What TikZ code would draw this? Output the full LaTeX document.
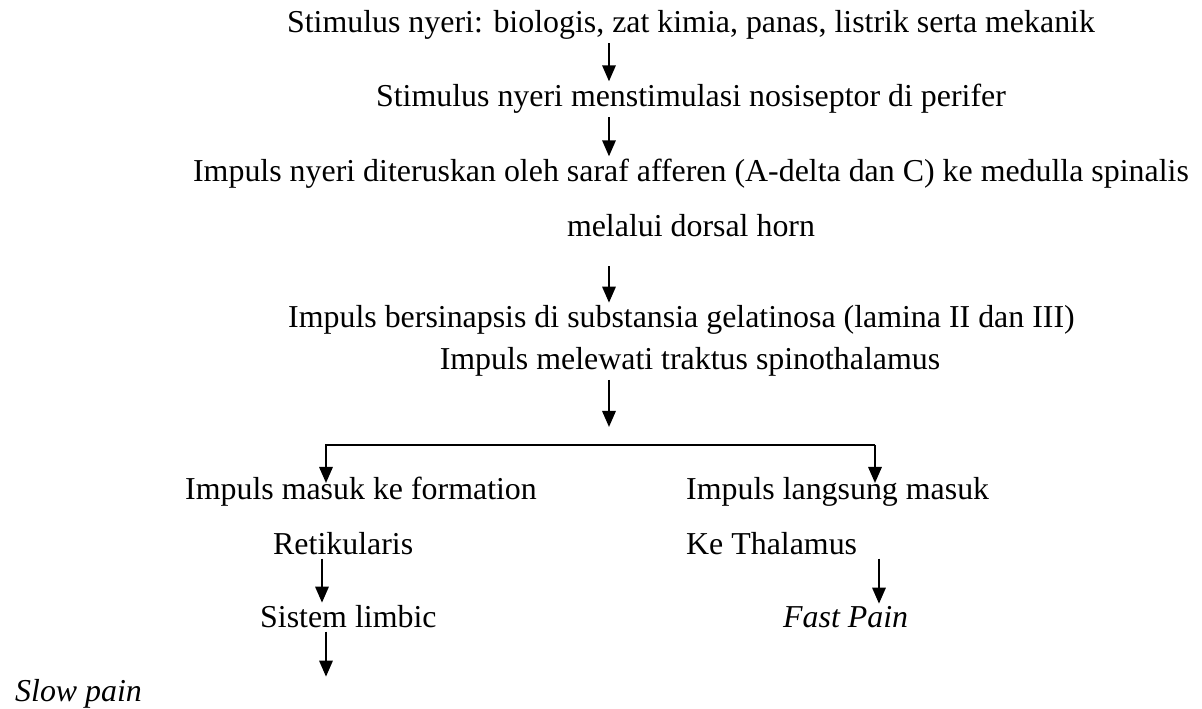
\documentclass[tikz,border=0pt]{standalone}
\usepackage{fontspec}
\setmainfont{Liberation Serif}
\usetikzlibrary{arrows.meta}

\begin{document}
\begin{tikzpicture}[x=0.375pt, y=-0.375pt,
    txt/.style={inner sep=1pt, font=\fontsize{11.96}{14}\selectfont},
    flow/.style={line width=0.8pt, -{Triangle[width=5pt,length=6pt]}},
    branch/.style={line width=0.8pt}]
    % Fix the page size
    \useasboundingbox (0,0) rectangle (1202,709);

    % Define the arrow columns
    \coordinate (colMain) at (609,0);
    \coordinate (colLeft) at (322,0);
    \coordinate (colRight) at (879,0);

    % Draw the main chain
    \node[txt, anchor=base] (stim) at (691,33) {Stimulus nyeri: biologis, zat kimia, panas, listrik serta mekanik};
    \node[txt, anchor=base] (noci) at (691,107) {Stimulus nyeri menstimulasi nosiseptor di perifer};
    \node[txt, anchor=base] (aff) at (691,182) {Impuls nyeri diteruskan oleh saraf afferen (A-delta dan C) ke medulla spinalis};
    \node[txt, anchor=base] (horn) at (691,237) {melalui dorsal horn};
    \node[txt, anchor=base west] (gel) at (285,328) {Impuls bersinapsis di substansia gelatinosa (lamina II dan III)};
    \node[txt, anchor=base] (spino) at (690,370) {Impuls melewati traktus spinothalamus};

    \draw[flow] (stim.south -| colMain) -- (noci.north -| colMain);
    \draw[flow] (noci.south -| colMain) -- (aff.north -| colMain);
    \draw[flow, shorten <=12\pgflinewidth] (horn.south -| colMain) -- (gel.north -| colMain);

    % Draw the split
    \coordinate (split) at (609,427);
    \coordinate (brL) at (326,445);
    \coordinate (brR) at (875,445);
    \coordinate (tipL) at (326,483);
    \coordinate (tipR) at (875,483);
    \draw[flow] (spino.south -| colMain) -- (split);
    \draw[flow] (brR) -- (brL) -- (tipL);
    \draw[flow] (brR) -- (tipR);

    % Left branch
    \node[txt, anchor=base west] (reti) at (182,500) {Impuls masuk ke formation};
    \node[txt, anchor=base west] (retk) at (270,555) {Retikularis};
    \node[txt, anchor=base west] (limb) at (257,628) {Sistem limbic};
    \node[txt, anchor=base west] (slow) at (12,702) {\itshape Slow pain};
    \draw[flow] (retk.south -| colLeft) -- (limb.north -| colLeft);
    \draw[flow] ([xshift=1.5pt]limb.south -| colLeft) -- ([xshift=1.5pt]slow.north -| colLeft);

    % Right branch
    \node[txt, anchor=base west] (thal) at (683,500) {Impuls langsung masuk};
    \node[txt, anchor=base west] (thak) at (683,555) {Ke Thalamus};
    \node[txt, anchor=base west] (fast) at (780,628) {\itshape Fast Pain};
    \draw[flow] (thak.south -| colRight) -- (fast.north -| colRight);

\end{tikzpicture}
\end{document}
